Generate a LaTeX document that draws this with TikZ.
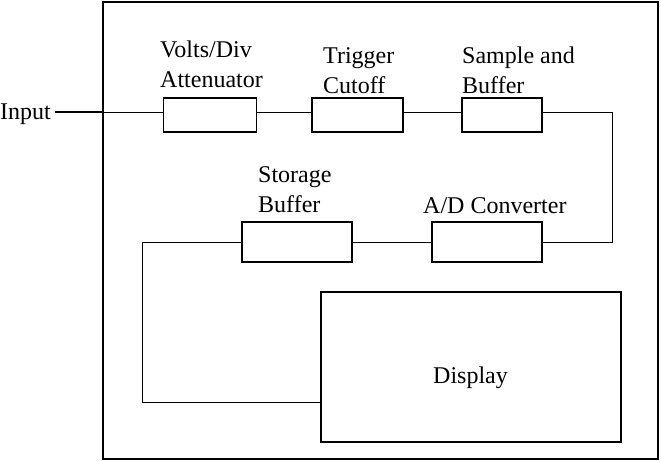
\documentclass[tikz,border=0pt]{standalone}
\usepackage{fontspec}
\setmainfont{Liberation Serif}
\begin{document}
\begin{tikzpicture}[x=1pt,y=-1pt,
  blk/.style={draw,line width=1.5pt,inner sep=0pt,minimum width=#1},
  lbl/.style={anchor=base west,inner sep=0pt,align=left,font=\fontsize{24}{30}\selectfont},
  wire/.style={line width=0.8pt}]
\useasboundingbox (0,0) rectangle (661,461);
\draw[line width=1.5pt] (103,2) rectangle (658,459);
\coordinate (ob) at (103,0);
% blocks
\node[blk=93pt,minimum height=34pt] (v) at (210,115) {};
\node[blk=91pt,minimum height=34pt] (t) at (357.5,115) {};
\node[blk=80pt,minimum height=34pt] (s) at (502,115) {};
\node[blk=110pt,minimum height=40pt] (ad) at (487,242) {};
\node[blk=110pt,minimum height=40pt] (sb) at (297,242) {};
\node[blk=300pt,minimum height=150pt] (d) at (471,367) {};
% labels (base = last line)
\node[lbl] (in) at (0,119) {Input};
\node[lbl] (lv) at (160,87) {Volts/Div\\Attenuator};
\node[lbl] (lt) at (323,93) {Trigger\\Cutoff};
\node[lbl] (ls) at (462,93) {Sample and\\Buffer};
\node[lbl] (lsb) at (258,212) {Storage\\Buffer};
\node[lbl] (lad) at (423,213) {A/D Converter};
\node[lbl] (ld) at (433,383) {Display};
% wires
\coordinate (rx) at (612,242);
\coordinate (lx) at (142,402);
\draw[wire] ([yshift=3pt]v.west) -- ([yshift=3pt]v.west -| ob);
\draw[line width=1.3pt,shorten >=4pt] ([yshift=3pt]v.west -| ob) -- ([yshift=3pt]v.west -| in.east);
\draw[wire] ([yshift=3pt]v.east) -- ([yshift=3pt]t.west);
\draw[wire] ([yshift=3pt]t.east) -- ([yshift=3pt]s.west);
\draw[wire] ([yshift=3pt]s.east) -| (rx) -- (ad.east);
\draw[wire] (ad.west) -- (sb.east);
\draw[wire] (sb.west) -| (lx) -- (lx -| d.west);
\end{tikzpicture}
\end{document}
